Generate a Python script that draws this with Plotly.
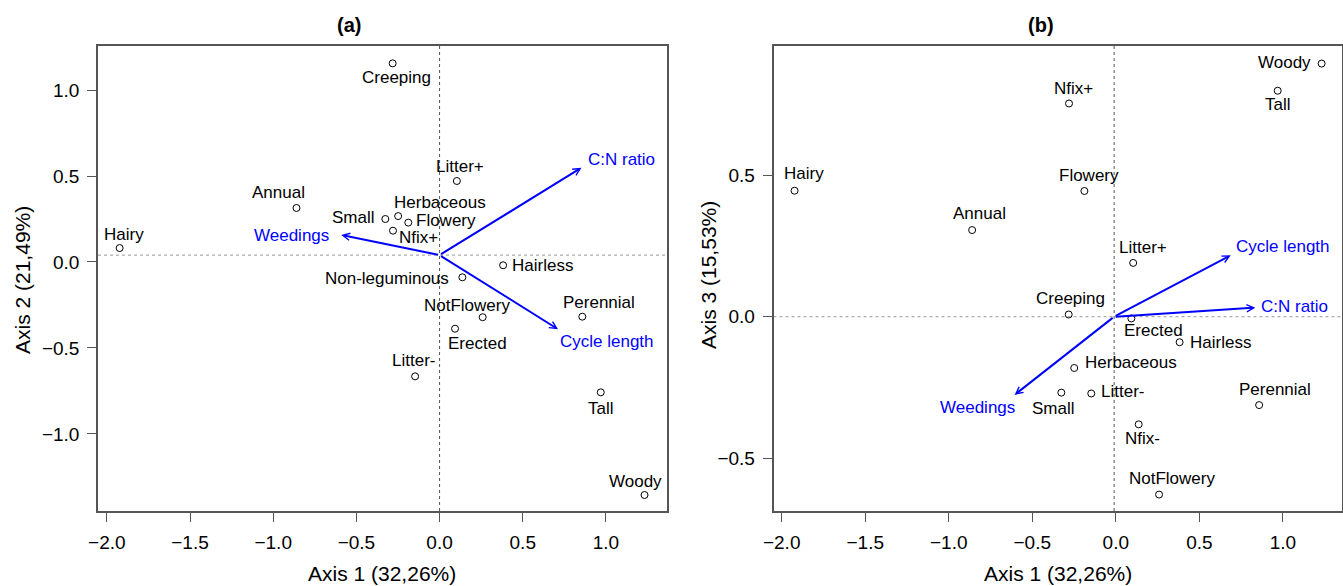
import plotly.graph_objects as go

# ---------------- data ----------------
categories = ["Creeping", "Litter+", "Annual", "Small", "Herbaceous", "Flowery", "Nfix+", "Hairy",
              "Hairless", "Nfix-", "NotFlowery", "Erected", "Perennial", "Litter-", "Tall", "Woody"]
labels_a = ["Creeping", "Litter+", "Annual", "Small", "Herbaceous", "Flowery", "Nfix+", "Hairy",
            "Hairless", "Non-leguminous", "NotFlowery", "Erected", "Perennial", "Litter-", "Tall", "Woody"]
labels_b = categories

axis1 = [-0.282, 0.104, -0.860, -0.326, -0.249, -0.188, -0.280, -1.923,
         0.382, 0.137, 0.259, 0.093, 0.858, -0.147, 0.969, 1.232]
axis2 = [1.155, 0.471, 0.314, 0.250, 0.267, 0.229, 0.182, 0.081,
         -0.019, -0.089, -0.321, -0.388, -0.318, -0.665, -0.758, -1.355]
axis3 = [0.008, 0.190, 0.306, -0.268, -0.181, 0.444, 0.753, 0.445,
         -0.090, -0.380, -0.628, -0.006, -0.312, -0.271, 0.798, 0.894]

variables = ["C:N ratio", "Weedings", "Cycle length"]
arrow_a_x = [0.853, -0.591, 0.712]
arrow_a_y = [0.548, 0.157, -0.391]
origin_a = [0.0, 0.04]
arrow_b_x = [0.835, -0.606, 0.688]
arrow_b_y = [0.032, -0.276, 0.217]
origin_b = [-0.01, 0.0]

xtick_vals = [-2.0, -1.5, -1.0, -0.5, 0.0, 0.5, 1.0]
ytick_vals_a = [-1.0, -0.5, 0.0, 0.5, 1.0]
ytick_vals_b = [-0.5, 0.0, 0.5]

# ---------------- style (label offsets in px: dx, dy downward) ----------------
off_a = [(4, 14), (3, -14), (-18, -15), (-32, -2), (42, -14), (38, -2), (26, 7), (4, -14),
         (39, 0), (-75, 1), (-16, -12), (22, 15), (17, -14), (-2, -16), (0, 16), (-9, -14)]
off_b = [(2, -16), (10, -15), (7, -17), (-8, 16), (57, -5), (5, -15), (4, -15), (9, -17),
         (41, 0), (4, 14), (13, -16), (22, 12), (16, -16), (31, -2), (0, 14), (-37, -1)]
arr_off_a = [(40, -8), (-50, 1), (49, 12)]
arr_off_b = [(39, -1), (-37, 13), (52, -9)]

FONT = "Liberation Sans, Arial, Helvetica, sans-serif"
W, H = 1343, 586
BLUE = "#0000FF"
BOX = "#555555"

def fmt(v):
    s = f"{abs(v):.1f}"
    return ("\u2212" + s) if v < 0 else s

fig = go.Figure()

panels = [
    dict(xa="x", ya="y", yvals=axis2, labels=labels_a, off=off_a,
         ax=arrow_a_x, ay=arrow_a_y, org=origin_a, aoff=arr_off_a),
    dict(xa="x2", ya="y2", yvals=axis3, labels=labels_b, off=off_b,
         ax=arrow_b_x, ay=arrow_b_y, org=origin_b, aoff=arr_off_b),
]

annotations = []
shapes = []
for p in panels:
    fig.add_trace(go.Scatter(
        x=axis1, y=p["yvals"], mode="markers", xaxis=p["xa"], yaxis=p["ya"],
        marker=dict(symbol="circle-open", size=7, color="black", line=dict(width=1, color="black")),
        showlegend=False, hoverinfo="skip"))
    for xv, yv, lab, (dx, dy) in zip(axis1, p["yvals"], p["labels"], p["off"]):
        annotations.append(dict(x=xv, y=yv, xref=p["xa"], yref=p["ya"], text=lab, showarrow=False,
                                xshift=dx, yshift=-dy, xanchor="center", yanchor="middle",
                                font=dict(family=FONT, size=17, color="black")))
    # dotted reference lines through the arrow origin
    shapes.append(dict(type="line", xref=p["xa"], yref=p["ya"] + " domain", x0=p["org"][0], x1=p["org"][0],
                       y0=0, y1=1, line=dict(color="#555555", width=1, dash="dot"), layer="below"))
    shapes.append(dict(type="line", xref=p["xa"] + " domain", yref=p["ya"], x0=0, x1=1,
                       y0=p["org"][1], y1=p["org"][1], line=dict(color="#999999", width=1, dash="dot"), layer="below"))
    for name, tx, ty, (dx, dy) in zip(variables, p["ax"], p["ay"], p["aoff"]):
        annotations.append(dict(x=tx, y=ty, ax=p["org"][0], ay=p["org"][1], xref=p["xa"], yref=p["ya"],
                                axref=p["xa"], ayref=p["ya"], text="", showarrow=True,
                                arrowhead=5, arrowsize=0.7, arrowwidth=2, arrowcolor=BLUE))
        annotations.append(dict(x=tx, y=ty, xref=p["xa"], yref=p["ya"], text=name, showarrow=False,
                                xshift=dx, yshift=-dy, xanchor="center", yanchor="middle",
                                font=dict(family=FONT, size=17, color=BLUE)))

# titles and axis titles (pixel positions converted to paper)
def px(x):
    return x / W

def py(y):
    return 1 - y / H

for txt, x, y in [("(a)", 349, 25), ("(b)", 1041, 25)]:
    annotations.append(dict(x=px(x), y=py(y), xref="paper", yref="paper", text=f"<b>{txt}</b>",
                            showarrow=False, xanchor="center", yanchor="middle",
                            font=dict(family=FONT, size=20, color="black")))
for txt, x, y, ang in [("Axis 1 (32,26%)", 382, 573, 0), ("Axis 1 (32,26%)", 1058, 573, 0),
                       ("Axis 2 (21,49%)", 22, 280, -90), ("Axis 3 (15,53%)", 708, 275, -90)]:
    annotations.append(dict(x=px(x), y=py(y), xref="paper", yref="paper", text=txt, textangle=ang,
                            showarrow=False, xanchor="center", yanchor="middle",
                            font=dict(family=FONT, size=21, color="black")))

axis_common = dict(showgrid=False, zeroline=False, showline=True, mirror=True, linecolor=BOX, linewidth=1.5,
                   ticks="outside", ticklen=9, tickwidth=1.2, tickcolor=BOX, automargin=False,
                   tickfont=dict(family=FONT, size=19, color="black"), ticklabelstandoff=4)

fig.update_layout(
    width=W, height=H, margin=dict(l=0, r=0, t=0, b=0, autoexpand=False),
    paper_bgcolor="white", plot_bgcolor="white",
    xaxis=dict(domain=[98 / W, 666.5 / W], range=[-2.053, 1.364], tickvals=xtick_vals,
               ticktext=[fmt(v) for v in xtick_vals], anchor="y", **axis_common),
    yaxis=dict(domain=[1 - 511 / H, 1 - 46 / H], range=[-1.448, 1.256], tickvals=ytick_vals_a,
               ticktext=[fmt(v) for v in ytick_vals_a], anchor="x", **axis_common),
    xaxis2=dict(domain=[773.5 / W, 1342 / W], range=[-2.049, 1.354], tickvals=xtick_vals,
                ticktext=[fmt(v) for v in xtick_vals], anchor="y2", **axis_common),
    yaxis2=dict(domain=[1 - 511 / H, 1 - 46 / H], range=[-0.686, 0.956], tickvals=ytick_vals_b,
                ticktext=[fmt(v) for v in ytick_vals_b], anchor="x2", **axis_common),
    annotations=annotations, shapes=shapes,
)

fig.write_html("out.html", config={"displayModeBar": False},
               post_script="document.body.style.margin='0px';document.body.style.overflow='hidden';")
